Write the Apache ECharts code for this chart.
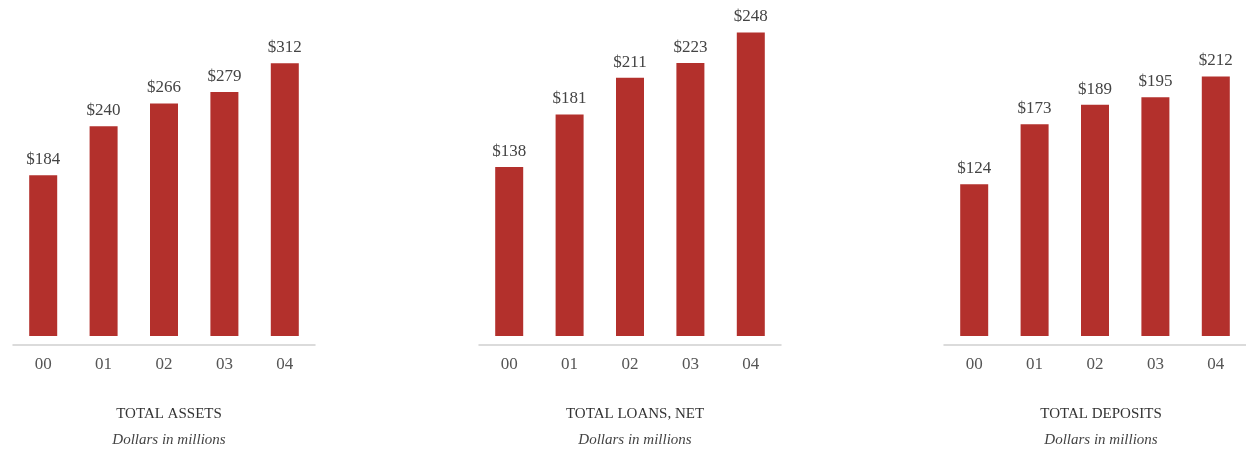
<!DOCTYPE html>
<html>
<head>
<meta charset="utf-8">
<script src="https://cdn.jsdelivr.net/npm/echarts@6/dist/echarts.min.js"></script>
<style>
html,body{margin:0;padding:0;background:#fff;}
#chart{width:1246px;height:452px;}
</style>
</head>
<body>
<div id="chart"></div>
<script>
const years = ['00', '01', '02', '03', '04'];
const totalAssets = [184, 240, 266, 279, 312];
const totalLoansNet = [138, 181, 211, 223, 248];
const totalDeposits = [124, 173, 189, 195, 212];
const chartTitles = ['TOTAL ASSETS', 'TOTAL LOANS, NET', 'TOTAL DEPOSITS'];
const subTitle = 'Dollars in millions';

const panels = [
  { data: totalAssets, left: 13, max: 350, center: 164 },
  { data: totalLoansNet, left: 479, max: 250, center: 630 },
  { data: totalDeposits, left: 944, max: 250, center: 1096 }
];

const serif = '"Liberation Serif", "DejaVu Serif", serif';
const barColor = '#B3302C';

const chart = echarts.init(document.getElementById('chart'), null, { renderer: 'canvas' });

const option = {
  backgroundColor: '#ffffff',
  animation: false,
  title: panels.map((p, i) => ({
    text: chartTitles[i],
    subtext: subTitle,
    left: p.center,
    top: 402,
    textAlign: 'center',
    itemGap: 11,
    textStyle: { fontFamily: serif, fontSize: 15, fontWeight: 'normal', color: '#333' },
    subtextStyle: { fontFamily: serif, fontSize: 15, fontStyle: 'italic', color: '#444' }
  })),
  grid: panels.map(p => ({ left: p.left, width: 302, top: 30, bottom: 116, containLabel: false })),
  xAxis: panels.map((p, i) => ({
    type: 'category',
    gridIndex: i,
    data: years,
    offset: 9,
    axisLine: { show: true, onZero: false, lineStyle: { color: '#cfcfcf', width: 1.5 } },
    axisTick: { show: false },
    axisLabel: { margin: 11, fontFamily: serif, fontSize: 17, color: '#555' }
  })),
  yAxis: panels.map((p, i) => ({
    type: 'value',
    gridIndex: i,
    min: 0,
    max: p.max,
    show: false,
    splitLine: { show: false }
  })),
  series: panels.map((p, i) => ({
    type: 'bar',
    xAxisIndex: i,
    yAxisIndex: i,
    data: p.data,
    barWidth: 28,
    itemStyle: { color: barColor },
    label: {
      show: true,
      position: 'top',
      distance: 7,
      formatter: '$' + '{c}',
      fontFamily: serif,
      fontSize: 17,
      color: '#444'
    }
  }))
};

chart.setOption(option);
</script>
</body>
</html>
